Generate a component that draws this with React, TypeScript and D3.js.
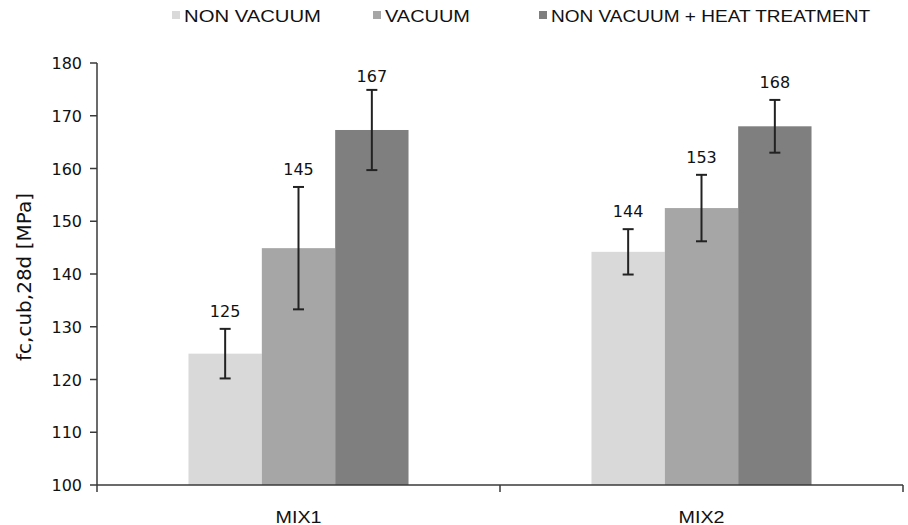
import React from 'react';
import * as d3 from 'd3';

const categories = ['MIX1', 'MIX2'];
const seriesNames = ['NON VACUUM', 'VACUUM', 'NON VACUUM + HEAT TREATMENT'];
const seriesColors = ['#d9d9d9', '#a6a6a6', '#7f7f7f'];
const nonVacuum = [124.9, 144.2];
const vacuum = [144.9, 152.5];
const heatTreated = [167.3, 168.0];
const nonVacuumErr = [4.7, 4.3];
const vacuumErr = [11.6, 6.3];
const heatTreatedErr = [7.6, 5.0];
const valueLabels = [['125', '145', '167'], ['144', '153', '168']];
const yTicks = [100, 110, 120, 130, 140, 150, 160, 170, 180];

const W = 908;
const H = 525;
const m = { top: 63, right: 5, bottom: 40, left: 97 };

export default function App() {
  const values = [nonVacuum, vacuum, heatTreated];
  const errors = [nonVacuumErr, vacuumErr, heatTreatedErr];

  const y = d3.scaleLinear().domain([100, 180]).range([H - m.bottom, m.top]);
  const x0 = d3.scaleBand<string>()
    .domain(categories)
    .range([m.left, W - m.right])
    .paddingInner(0.454)
    .paddingOuter(0.227);
  const x1 = d3.scaleBand<string>()
    .domain(seriesNames)
    .range([0, x0.bandwidth()]);
  const full = d3.scaleBand<string>().domain(categories).range([m.left, W - m.right]);

  const axisColor = '#3a3a3a';
  const legendX = [172, 373, 539];
  const legendLen = [137, 85, 319];

  return (
    <svg width={W} height={H} style={{ position: 'absolute', left: 0, top: 0, background: '#fff' }}>
      {/* legend */}
      {seriesNames.map((s, i) => (
        <g key={s}>
          <rect x={legendX[i]} y={11} width={8} height={8} fill={seriesColors[i]} />
          <text x={legendX[i] + 12} y={22} fontFamily="Liberation Sans, Arial" fontSize={17}
            textLength={legendLen[i]} lengthAdjust="spacingAndGlyphs" fill="#111">{s}</text>
        </g>
      ))}

      {/* bars */}
      {categories.map((c, ci) => (
        <g key={c} transform={`translate(${x0(c)},0)`}>
          {seriesNames.map((s, si) => {
            const v = values[si][ci];
            return (
              <rect key={s} x={x1(s)} y={y(v)} width={x1.bandwidth()} height={y(100) - y(v)}
                fill={seriesColors[si]} />
            );
          })}
        </g>
      ))}

      {/* error bars + value labels */}
      {categories.map((c, ci) => (
        <g key={c + 'err'} transform={`translate(${x0(c)},0)`}>
          {seriesNames.map((s, si) => {
            const v = values[si][ci];
            const e = errors[si][ci];
            const cx = (x1(s) ?? 0) + x1.bandwidth() / 2;
            const top = y(v + e);
            const bot = y(v - e);
            const labelY = Math.max(top - 12, m.top + 19);
            return (
              <g key={s}>
                <line x1={cx} x2={cx} y1={top} y2={bot} stroke="#222" strokeWidth={2} />
                <line x1={cx - 5.5} x2={cx + 5.5} y1={top} y2={top} stroke="#222" strokeWidth={2} />
                <line x1={cx - 5.5} x2={cx + 5.5} y1={bot} y2={bot} stroke="#222" strokeWidth={2} />
                <text x={cx} y={labelY} textAnchor="middle" fontFamily="DejaVu Sans, Verdana"
                  fontSize={16} fill="#111">{valueLabels[ci][si]}</text>
              </g>
            );
          })}
        </g>
      ))}

      {/* y axis */}
      <line x1={m.left} x2={m.left} y1={y(180)} y2={y(100)} stroke={axisColor} strokeWidth={1.5} />
      {yTicks.map(t => (
        <g key={t}>
          <line x1={m.left - 7} x2={m.left} y1={y(t)} y2={y(t)} stroke={axisColor} strokeWidth={1.5} />
          <text x={m.left - 15} y={y(t) + 6} textAnchor="end" fontFamily="DejaVu Sans, Verdana"
            fontSize={16} fill="#111">{t}</text>
        </g>
      ))}
      <text transform={`translate(31,${(y(100) + y(180)) / 2 + 3}) rotate(-90)`} textAnchor="middle"
        fontFamily="DejaVu Sans, Verdana" fontSize={20} fill="#111">fc,cub,28d [MPa]</text>

      {/* x axis */}
      <line x1={m.left} x2={W - m.right} y1={y(100)} y2={y(100)} stroke={axisColor} strokeWidth={1.5} />
      {[m.left, (full('MIX2') ?? 0), W - m.right].map((tx, i) => (
        <line key={i} x1={tx} x2={tx} y1={y(100)} y2={y(100) + 7} stroke={axisColor} strokeWidth={1.5} />
      ))}
      {categories.map(c => (
        <text key={c} x={(x0(c) ?? 0) + x0.bandwidth() / 2} y={523} textAnchor="middle"
          fontFamily="Liberation Sans, Arial" fontSize={16} textLength={46} lengthAdjust="spacingAndGlyphs"
          fill="#111">{c}</text>
      ))}
    </svg>
  );
}
